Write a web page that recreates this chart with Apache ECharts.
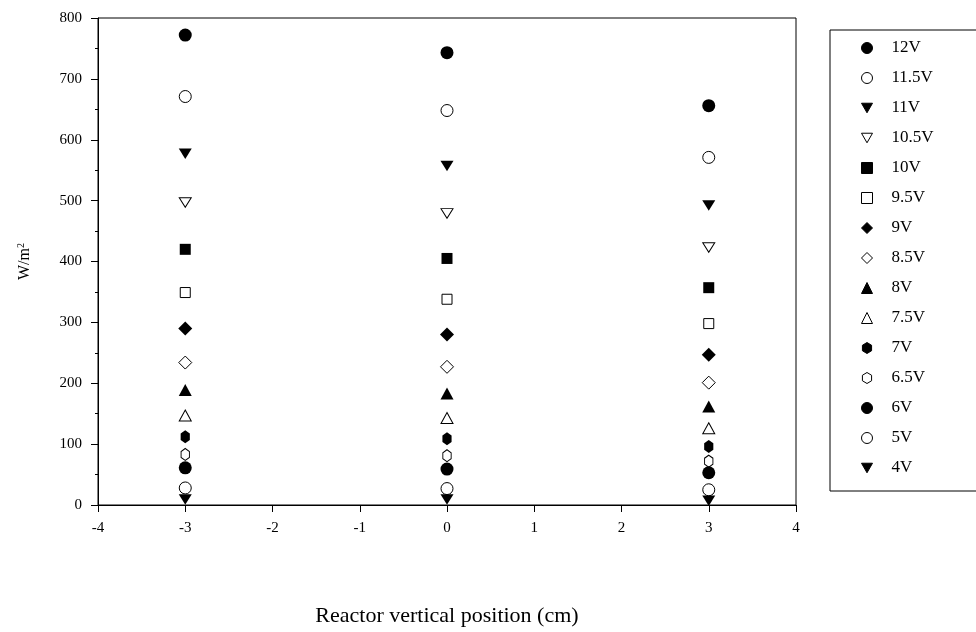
<!DOCTYPE html>
<html>
<head>
<meta charset="utf-8">
<style>
  html, body { margin: 0; padding: 0; background: #fff; }
  #chart { width: 976px; height: 632px; }
</style>
<script src="https://cdn.jsdelivr.net/npm/echarts@6/dist/echarts.min.js"></script>
</head>
<body>
<div id="chart"></div>
<script>
// Measurement positions along the reactor (cm)
const positions = [-3, 0, 3];

// Supply voltages, one series each (top to bottom in the legend)
const voltages = ['12V', '11.5V', '11V', '10.5V', '10V', '9.5V', '9V', '8.5V',
                  '8V', '7.5V', '7V', '6.5V', '6V', '5V', '4V'];

// Irradiance (W/m2) at each position, in voltage order
const atMinus3 = [772, 671, 577, 497, 420, 349, 290, 234, 189, 147, 112, 83, 61, 28, 9];
const atZero   = [743, 648, 557, 479, 405, 338, 280, 227, 183, 143, 109, 81, 59, 27, 9];
const atPlus3  = [656, 571, 492, 423, 357, 298, 247, 201, 162, 126, 96, 72, 53, 25, 7];

const DOWN_TRI = 'path://M0,0 L12,0 L6,10.4 Z';
const HEXAGON = 'path://M5,0 L10,3 L10,9 L5,12 L0,9 L0,3 Z';

// Marker style per voltage: [symbol, size, filled]
const markerStyles = [
  ['circle', 13, true],
  ['circle', 12, false],
  [DOWN_TRI, [13, 12], true],
  [DOWN_TRI, [12, 11], false],
  ['rect', 11, true],
  ['rect', 10, false],
  ['diamond', [14, 14], true],
  ['diamond', [13, 13], false],
  ['triangle', [13, 12], true],
  ['triangle', [12, 11], false],
  [HEXAGON, [11, 13], true],
  [HEXAGON, [10, 12], false],
  ['circle', 13, true],
  ['circle', 12, false],
  [DOWN_TRI, [13, 12], true]
];

const columns = [atMinus3, atZero, atPlus3];

const series = voltages.map((name, i) => {
  const [symbol, size, filled] = markerStyles[i];
  return {
    name: name,
    type: 'scatter',
    symbol: symbol,
    symbolSize: size,
    symbolKeepAspect: true,
    itemStyle: filled
      ? { color: '#000', borderColor: '#000', borderWidth: 0, opacity: 1 }
      : { color: '#fff', borderColor: '#000', borderWidth: 1, opacity: 1 },
    emphasis: { disabled: true },
    data: positions.map((x, j) => [x, columns[j][i]])
  };
});

const FONT = '"Liberation Serif", "DejaVu Serif", serif';

const chart = echarts.init(document.getElementById('chart'), null, { renderer: 'canvas' });
chart.setOption({
  animation: false,
  backgroundColor: '#fff',
  grid: {
    left: 98, right: 180, top: 18, bottom: 124,
    show: true, borderColor: '#000', borderWidth: 1, backgroundColor: 'transparent'
  },
  xAxis: {
    type: 'value',
    min: -4, max: 4, interval: 1,
    name: 'Reactor vertical position (cm)',
    nameLocation: 'middle',
    nameGap: 100,
    nameTextStyle: { fontFamily: FONT, fontSize: 22, color: '#000' },
    axisLine: { show: true, onZero: false, lineStyle: { color: '#000', width: 1 } },
    axisTick: { show: true, inside: false, length: 7, lineStyle: { color: '#000' } },
    axisLabel: { fontFamily: FONT, fontSize: 15, color: '#000', margin: 16 },
    splitLine: { show: false }
  },
  yAxis: {
    type: 'value',
    min: 0, max: 800, interval: 100,
    name: '{a|W/m}{s|2}',
    nameLocation: 'middle',
    nameGap: 64,
    nameRotate: 90,
    nameTextStyle: {
      fontFamily: FONT, color: '#000',
      rich: {
        a: { fontFamily: FONT, fontSize: 16, color: '#000' },
        s: { fontFamily: FONT, fontSize: 10, color: '#000', verticalAlign: 'top', padding: [0, 0, 8, 0] }
      }
    },
    axisLine: { show: true, onZero: false, lineStyle: { color: '#000', width: 1 } },
    axisTick: { show: true, inside: false, length: 7, lineStyle: { color: '#000' } },
    minorTick: { show: true, splitNumber: 2, length: 3, lineStyle: { color: '#000' } },
    axisLabel: { fontFamily: FONT, fontSize: 15, color: '#000', margin: 16 },
    splitLine: { show: false }
  },
  legend: {
    orient: 'vertical',
    left: 830, top: 30,
    padding: [9, 200, 14, 31],
    borderColor: '#000', borderWidth: 1,
    itemWidth: 11, itemHeight: 11,
    itemGap: 12,
    selectedMode: false,
    data: voltages,
    itemStyle: { borderWidth: 1 },
    textStyle: { fontFamily: FONT, fontSize: 17, color: '#000', lineHeight: 18, padding: [0, 0, 0, 14] }
  },
  series: series
});
</script>
</body>
</html>
